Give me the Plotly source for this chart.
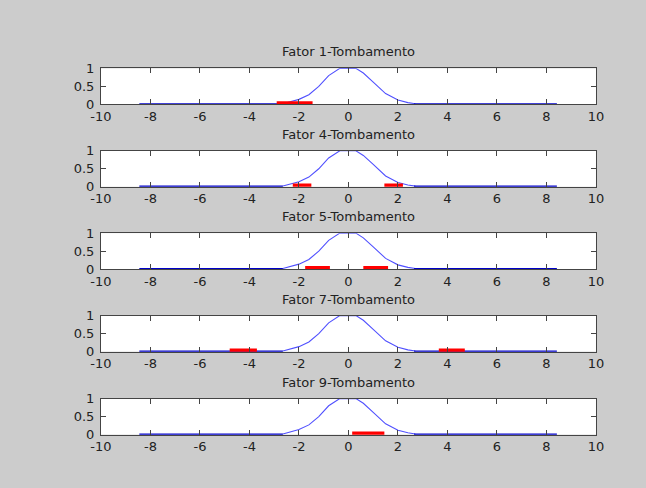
import plotly.graph_objects as go

W, H = 646, 488

titles = ["Fator 1-Tombamento", "Fator 4-Tombamento", "Fator 5-Tombamento",
          "Fator 7-Tombamento", "Fator 9-Tombamento"]

# bell curve
curve_x = [-2.65, -2.4, -2.0, -1.6, -1.2, -0.8, -0.35, 0.3, 0.6, 1.0, 1.5, 2.0, 2.4, 2.7]
curve_y = [0.02, 0.06, 0.14, 0.27, 0.50, 0.80, 1.0, 1.0, 0.87, 0.62, 0.30, 0.12, 0.05, 0.02]

# dark baseline segments
base_left = [-8.45, -2.65]
base_right = [2.65, 8.42]

# red intervals for each subplot
red_segments = [
    [[-2.9, -1.45]],
    [[-2.25, -1.5], [1.45, 2.2]],
    [[-1.75, -0.75], [0.6, 1.6]],
    [[-4.8, -3.7], [3.65, 4.7]],
    [[0.15, 1.45]],
]

x_ticks = [-10, -8, -6, -4, -2, 0, 2, 4, 6, 8, 10]
x_ticktext = ["-10", "-8", "-6", "-4", "-2", "0", "2", "4", "6", "8", "10"]
y_ticks = [0, 0.5, 1]
y_ticktext = ["0", "0.5", "1"]

# layout geometry (pixels)
ax_left, ax_right = 92.7, 602.7
tops = [63.3, 148.3, 233.3, 318.4, 404.0]
ax_h = 37.2

fig = go.Figure()
axis_color = "#444444"
font_fam = "DejaVu Sans, Arial, sans-serif"

annotations = []
for i, t in enumerate(titles):
    xa = "x" if i == 0 else f"x{i+1}"
    ya = "y" if i == 0 else f"y{i+1}"
    fig.add_trace(go.Scatter(x=curve_x, y=curve_y, mode="lines",
                             line=dict(color="rgb(80,80,255)", width=1.1),
                             xaxis=xa, yaxis=ya, cliponaxis=False, showlegend=False,
                             hoverinfo="skip"))
    for seg in (base_left, base_right):
        fig.add_trace(go.Scatter(x=seg, y=[0, 0], mode="lines",
                                 line=dict(color="#0000c8", width=2.5),
                                 xaxis=xa, yaxis=ya, cliponaxis=False, showlegend=False,
                                 hoverinfo="skip"))
    for seg in red_segments[i]:
        fig.add_trace(go.Scatter(x=seg, y=[0, 0], mode="lines",
                                 line=dict(color="#ff0000", width=6.5),
                                 xaxis=xa, yaxis=ya, cliponaxis=False, showlegend=False,
                                 hoverinfo="skip"))
    top = tops[i]
    bottom = top + ax_h
    dom_y = [1 - bottom / H, 1 - top / H]
    dom_x = [ax_left / W, ax_right / W]
    xkey = "xaxis" if i == 0 else f"xaxis{i+1}"
    ykey = "yaxis" if i == 0 else f"yaxis{i+1}"
    fig.layout[xkey] = dict(domain=dom_x, anchor=ya, range=[-10, 10],
                            tickvals=x_ticks, ticktext=x_ticktext,
                            ticks="inside", ticklen=5, tickcolor=axis_color,
                            showline=True, linecolor=axis_color, linewidth=1,
                            mirror="ticks", showgrid=False, zeroline=False,
                            tickfont=dict(family=font_fam, size=13, color="#222"),
                            ticklabelstandoff=0,
                            fixedrange=True)
    fig.layout[ykey] = dict(domain=dom_y, anchor=xa, range=[0, 1],
                            tickvals=y_ticks, ticktext=y_ticktext,
                            ticks="inside", ticklen=5, tickcolor=axis_color,
                            showline=True, linecolor=axis_color, linewidth=1,
                            mirror="ticks", showgrid=False, zeroline=False,
                            tickfont=dict(family=font_fam, size=13, color="#222"),
                            ticklabelstandoff=3,
                            fixedrange=True)
    annotations.append(dict(text=t, xref="paper", yref="paper",
                            x=(ax_left + ax_right) / 2 / W, y=1 - (top - 17) / H,
                            xanchor="center", yanchor="middle", showarrow=False,
                            font=dict(family=font_fam, size=13, color="#222")))

fig.update_layout(width=W, height=H, margin=dict(l=0, r=0, t=0, b=0),
                  paper_bgcolor="#cccccc", plot_bgcolor="white",
                  annotations=annotations, showlegend=False)

fig.write_html("out.html", config={"displayModeBar": False})
